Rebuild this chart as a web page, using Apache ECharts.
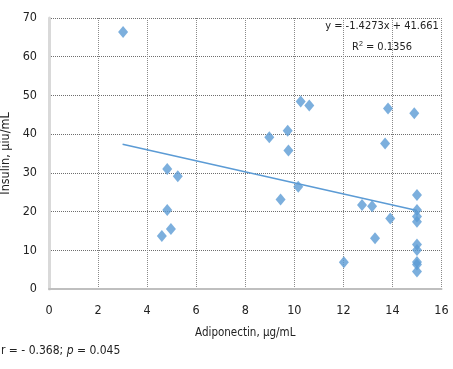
<!DOCTYPE html>
<html>
<head>
<meta charset="utf-8">
<script src="https://cdn.jsdelivr.net/npm/echarts@6/dist/echarts.min.js"></script>
<style>
html,body{margin:0;padding:0;background:#fff;}
#c{width:453px;height:369px;}
</style>
</head>
<body>
<div id="c"></div>
<script>
var adiponectin = [3.02,10.26,10.61,13.82,14.89,8.98,9.73,9.76,13.70,4.82,5.25,4.82,4.97,4.60,10.16,9.44,12.76,13.17,13.91,13.29,12.02,15,15,15,15,15,15,15,15,15];
var insulin     = [66.4,48.4,47.4,46.6,45.4,39.2,40.9,35.8,37.6,31.0,29.1,20.4,15.5,13.7,26.4,23.1,21.7,21.4,18.2,13.1,6.9,24.3,20.4,18.7,17.4,11.5,10.1,7.0,6.3,4.5];
var trendX = [3, 15];
var trendY = [37.38, 20.25];
var xTicks = [0,2,4,6,8,10,12,14,16];
var yTicks = [0,10,20,30,40,50,60,70];
var equationText = 'y = -1.4273x + 41.661';
var r2Text = '0.1356';
var statsR = 'r = - 0.368; ';
var statsP = ' = 0.045';

var FONT = '"DejaVu Sans Condensed", "Liberation Sans Narrow", sans-serif';
var pts = adiponectin.map(function(x,i){return [x, insulin[i]];});
var trend = trendX.map(function(x,i){return [x, trendY[i]];});

var chart = echarts.init(document.getElementById('c'), null, {renderer:'canvas'});
chart.setOption({
  animation:false,
  backgroundColor:'#fff',
  grid:{left:49, right:11.5, top:18, bottom:80, containLabel:false, outerBoundsMode:'none'},
  xAxis:{
    type:'value', min:xTicks[0], max:xTicks[xTicks.length-1], interval:2,
    name:'Adiponectin, μg/mL', nameLocation:'middle', nameGap:38,
    nameTextStyle:{fontFamily:FONT, fontSize:11.5, color:'#222'},
    axisLine:{show:true, lineStyle:{color:'#bfbfbf', width:2}},
    axisTick:{show:false},
    axisLabel:{margin:15, fontFamily:FONT, fontSize:12.5, color:'#222'},
    splitLine:{show:true, lineStyle:{type:'dotted', color:'#8a8a8a', width:1}}
  },
  yAxis:{
    type:'value', min:yTicks[0], max:yTicks[yTicks.length-1], interval:10,
    name:'Insulin, μiu/mL', nameLocation:'middle', nameGap:36,
    nameTextStyle:{fontFamily:FONT, fontSize:12.5, color:'#222'},
    axisLine:{show:true, lineStyle:{color:'#d9d9d9', width:3}},
    axisTick:{show:false},
    axisLabel:{margin:12, fontFamily:FONT, fontSize:12.5, color:'#222'},
    splitLine:{show:true, lineStyle:{type:'dotted', color:'#6e6e6e', width:1}}
  },
  series:[
    {type:'line', data:trend, symbol:'none', silent:true,
     lineStyle:{color:'#5b9bd5', width:1.5}, z:2},
    {type:'scatter', data:pts, symbol:'diamond', symbolSize:[10,12],
     itemStyle:{color:'#5b9bd5'}, z:3}
  ],
  graphic:[
    {type:'text', x:382, y:21, style:{text:equationText, align:'center', fontFamily:FONT, fontSize:11, fill:'#222'}},
    {type:'text', x:382, y:41, style:{
      text:'R{sup|2} = '+r2Text, align:'center',
      rich:{sup:{fontSize:7, verticalAlign:'top', padding:[0,0,6,0]}},
      fontFamily:FONT, fontSize:11, fill:'#222'}},
    {type:'text', left:1, top:345, style:{
      text:statsR+'{i|p}'+statsP,
      rich:{i:{fontStyle:'italic', fontFamily:FONT, fontSize:12}},
      fontFamily:FONT, fontSize:12, fill:'#222'}}
  ]
});
</script>
</body>
</html>
